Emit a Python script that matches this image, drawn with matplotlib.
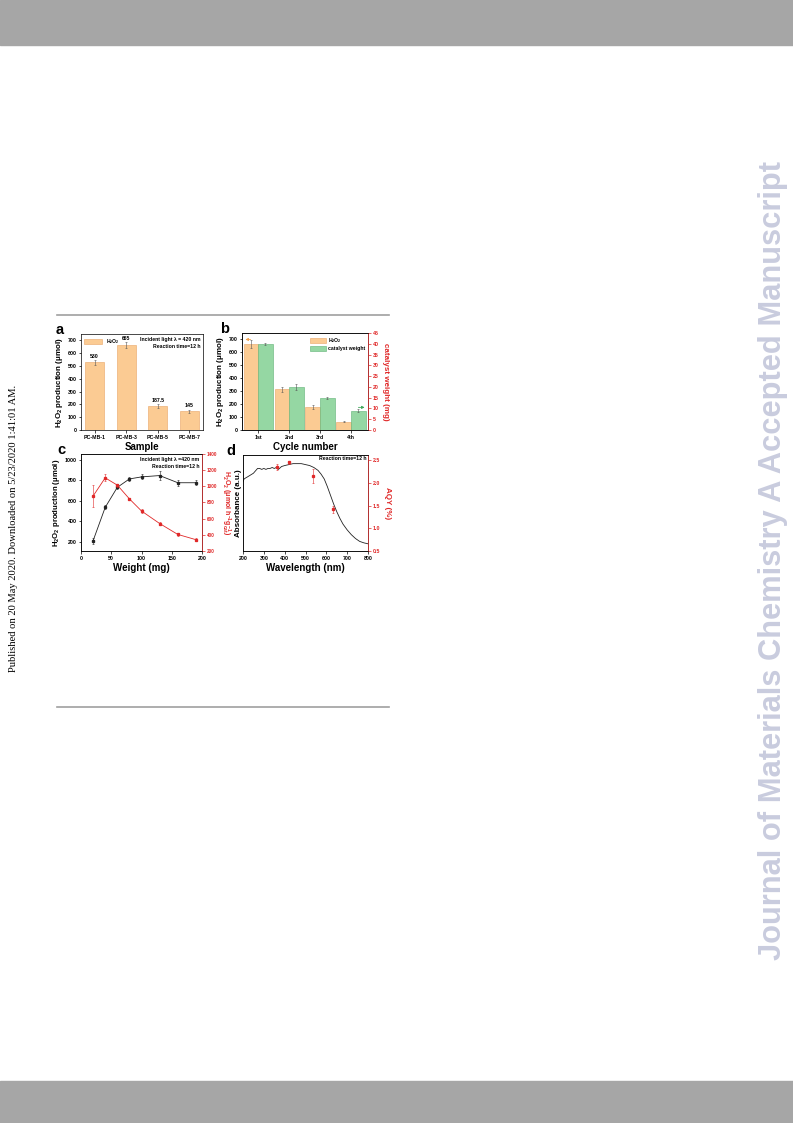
import matplotlib.pyplot as plt
from matplotlib.patches import Rectangle, Patch
from matplotlib.lines import Line2D

plt.rcParams['font.family'] = ['Liberation Sans', 'DejaVu Sans']
plt.rcParams['font.weight'] = 'bold'
plt.rcParams['axes.labelweight'] = 'bold'
plt.rcParams['mathtext.fontset'] = 'custom'
plt.rcParams['mathtext.rm'] = 'Liberation Sans:bold'
plt.rcParams['mathtext.bf'] = 'Liberation Sans:bold'
plt.rcParams['mathtext.it'] = 'Liberation Sans:bold'
plt.rcParams['axes.linewidth'] = 0.5

# panel a - samples
samples = ["PC-MB-1", "PC-MB-3", "PC-MB-5", "PC-MB-7"]
sample_h2o2 = [530, 665, 187.5, 145]
sample_err = [20, 25, 15, 15]
sample_text = ["530", "665", "187.5", "145"]

# panel b - recycling
cycles = ["1st", "2nd", "3rd", "4th"]
cycle_h2o2 = [665, 315, 178, 65]
cycle_h2o2_err = [28, 18, 18, 5]
cycle_weight = [40, 20, 15, 9]
cycle_weight_err = [0.4, 1.5, 0.4, 0.6]

# panel c - catalyst dosage
weights = [20, 40, 60, 80, 100, 130, 160, 190]
weight_h2o2 = [210, 535, 730, 812, 832, 845, 775, 775]
weight_h2o2_err = [30, 20, 15, 20, 25, 40, 30, 25]
weight_rate = [880, 1105, 1015, 845, 695, 540, 405, 340]
weight_rate_err = [140, 45, 20, 15, 20, 20, 15, 15]

# panel d - absorbance and AQY
wavelength = [200, 205, 212, 220, 235, 250, 262, 270, 280, 290, 300, 310, 320,
              330, 340, 350, 360, 370, 385, 400, 420, 440, 460, 480, 500, 520,
              540, 560, 575, 590, 605, 620, 635, 650, 665, 680, 700, 720, 740,
              760, 780, 800]
absorbance = [0.72, 0.75, 0.76, 0.77, 0.79, 0.81, 0.84, 0.86, 0.86, 0.85, 0.86,
              0.85, 0.86, 0.86, 0.87, 0.86, 0.87, 0.85, 0.88, 0.89, 0.90, 0.91,
              0.91, 0.91, 0.90, 0.89, 0.87, 0.84, 0.80, 0.75, 0.67, 0.58, 0.49,
              0.41, 0.34, 0.28, 0.22, 0.17, 0.13, 0.10, 0.085, 0.075]
aqy_wl = [365, 420, 535, 630]
aqy = [2.35, 2.45, 2.15, 1.42]
aqy_err = [0.07, 0.03, 0.15, 0.08]

ORANGE = '#FBCB93'
ORANGE_EDGE = '#E9A565'
GREEN = '#95D7A3'
GREEN_EDGE = '#5FB275'
RED = '#E02828'

TICK = 3.8
XLAB = 7.0
YLAB = 5.8
NOTE = 3.7

W, H = 793, 1123
fig = plt.figure(figsize=(W / 100, H / 100), dpi=100)


def box(x0, y0, x1, y1):
    return [x0 / W, 1 - y1 / H, (x1 - x0) / W, (y1 - y0) / H]


def style(ax, color='black', size=TICK):
    ax.tick_params(labelsize=size, length=1.8, width=0.5, pad=1.5, colors=color)


H2O2 = r'$\mathbf{H_2O_2}$'
err_kw = dict(elinewidth=0.4, capsize=1, capthick=0.4, ecolor='#555555')

# page decoration
fig.patches.append(Rectangle((0, 1 - 45 / H), 1, 45 / H, transform=fig.transFigure,
                             color='#A6A6A6', zorder=0))
fig.patches.append(Rectangle((0, 0), 1, 42 / H, transform=fig.transFigure,
                             color='#A6A6A6', zorder=0))
for yy in (315, 707):
    fig.add_artist(Line2D([57 / W, 389 / W], [1 - yy / H] * 2, color='#A0A0A0', lw=1.2))
fig.text(14 / W, 1 - 528 / H, "Published on 20 May 2020. Downloaded on 5/23/2020 1:41:01 AM.",
         rotation=90, ha='center', va='center', fontsize=7.6, fontweight='normal',
         family=['Liberation Serif'])
fig.text(773 / W, 1 - 560 / H, "Journal of Materials Chemistry A Accepted Manuscript",
         rotation=90, ha='center', va='center', fontsize=22.2, fontweight='bold',
         color='#C9CCDE')

# ---- a ----
ax = fig.add_axes(box(81, 334, 203, 430))
xa = range(len(samples))
ax.bar(xa, sample_h2o2, width=0.6, color=ORANGE, edgecolor=ORANGE_EDGE, lw=0.4,
       yerr=sample_err, error_kw=err_kw)
for i, v in enumerate(sample_h2o2):
    ax.text(i, v + sample_err[i] + 8, sample_text[i], ha='center', va='bottom', fontsize=NOTE)
ax.set_xticks(list(xa))
ax.set_xticklabels(samples)
ax.set_xlim(-0.43, 3.43)
ax.set_ylim(0, 750)
ax.set_yticks(range(0, 701, 100))
style(ax)
ax.set_xlabel('Sample', fontsize=XLAB, labelpad=2)
ax.set_ylabel(H2O2 + ' production (μmol)', fontsize=YLAB, labelpad=2)
ax.legend(handles=[Patch(facecolor=ORANGE, edgecolor=ORANGE_EDGE, lw=0.4, label=H2O2)],
          loc='upper left', fontsize=3.6, frameon=False, handlelength=3.5, handleheight=1.1,
          borderaxespad=0.2)
ax.text(0.98, 0.97, 'Incident light λ = 420 nm\nReaction time=12 h', transform=ax.transAxes,
        ha='right', va='top', fontsize=NOTE, linespacing=1.5)
fig.text(56 / W, 1 - 330 / H, 'a', fontsize=10.5, fontweight='bold', va='center')

# ---- b ----
ax = fig.add_axes(box(242, 333, 368, 430))
xb = range(len(cycles))
bw = 0.47
ax.bar([i - bw / 2 for i in xb], cycle_h2o2, width=bw, color=ORANGE, edgecolor=ORANGE_EDGE,
       lw=0.4, yerr=cycle_h2o2_err, error_kw=err_kw)
ax.set_xticks(list(xb))
ax.set_xticklabels(cycles)
ax.set_xlim(-0.52, 3.55)
ax.set_ylim(0, 750)
ax.set_yticks(range(0, 701, 100))
style(ax)
ax.set_xlabel('Cycle number', fontsize=XLAB, labelpad=2)
ax.set_ylabel(H2O2 + ' production (μmol)', fontsize=YLAB, labelpad=2)
ax.annotate('', xy=(-0.5, 700), xytext=(-0.15, 700),
            arrowprops=dict(arrowstyle='-|>', color='#F2A24E', lw=0.6, mutation_scale=4))
axr = ax.twinx()
axr.bar([i + bw / 2 for i in xb], cycle_weight, width=bw, color=GREEN, edgecolor=GREEN_EDGE,
        lw=0.4, yerr=cycle_weight_err, error_kw=err_kw)
axr.set_ylim(0, 45)
axr.set_yticks(range(0, 46, 5))
style(axr, RED)
axr.spines['right'].set_color(RED)
axr.set_ylabel('catalyst weight (mg)', fontsize=YLAB, color=RED, rotation=270,
               va='bottom', labelpad=2.5)
axr.annotate('', xy=(3.53, 10.5), xytext=(3.15, 10.5),
             arrowprops=dict(arrowstyle='-|>', color='#3FA75A', lw=0.6, mutation_scale=4))
axr.legend(handles=[Patch(facecolor=ORANGE, edgecolor=ORANGE_EDGE, lw=0.4, label=H2O2),
                    Patch(facecolor=GREEN, edgecolor=GREEN_EDGE, lw=0.4, label='catalyst weight')],
           loc='upper right', fontsize=3.7, frameon=False, handlelength=3.0, handleheight=1.1,
           borderaxespad=0.2, labelspacing=0.2, handletextpad=0.4)
fig.text(220 / W, 1 - 329 / H, 'b', fontsize=10.5, fontweight='bold', va='center')

# ---- c ----
ax = fig.add_axes(box(81, 454, 202, 551))
ax.errorbar(weights, weight_h2o2, yerr=weight_h2o2_err, color='#222222', marker='s', ms=1.4,
            lw=0.6, elinewidth=0.4, capsize=1, capthick=0.4)
ax.set_xlim(0, 200)
ax.set_xticks(range(0, 201, 50))
ax.set_ylim(110, 1055)
ax.set_yticks(range(200, 1001, 200))
style(ax)
ax.set_xlabel('Weight (mg)', fontsize=XLAB, labelpad=2)
ax.set_ylabel(H2O2 + ' production (μmol)', fontsize=5.6, labelpad=2)
ax.text(0.98, 0.97, 'Incident light λ =420 nm\nReaction time=12 h', transform=ax.transAxes,
        ha='right', va='top', fontsize=NOTE, linespacing=1.5)
axr = ax.twinx()
axr.errorbar(weights, weight_rate, yerr=weight_rate_err, color=RED, marker='s', ms=1.4,
             lw=0.6, elinewidth=0.4, capsize=1, capthick=0.4)
axr.set_ylim(200, 1400)
axr.set_yticks(range(200, 1401, 200))
style(axr, RED, 3.3)
axr.spines['right'].set_color(RED)
axr.set_ylabel(r'$\mathbf{H_2O_2\ (\mu mol\ h^{-1}g^{-1}_{cat})}$', fontsize=5.0, color=RED,
               rotation=270, va='bottom', labelpad=1.5)
fig.text(57 / W, 1 - 450 / H, 'c', fontsize=10.5, fontweight='bold', va='center')

# ---- d ----
ax = fig.add_axes(box(243, 455, 368, 551))
ax.plot(wavelength, absorbance, color='#222222', lw=0.6)
ax.set_xlim(200, 800)
ax.set_xticks(range(200, 801, 100))
ax.set_ylim(0, 1)
ax.set_yticks([])
style(ax)
ax.set_xlabel('Wavelength (nm)', fontsize=XLAB, labelpad=2)
ax.set_ylabel('Absorbance (a.u.)', fontsize=YLAB, labelpad=1)
ax.text(0.99, 0.985, 'Reaction time=12 h', transform=ax.transAxes,
        ha='right', va='top', fontsize=NOTE)
axr = ax.twinx()
axr.errorbar(aqy_wl, aqy, yerr=aqy_err, color=RED, marker='s', ms=1.4, ls='none',
             elinewidth=0.4, capsize=1, capthick=0.4)
axr.set_ylim(0.5, 2.61)
axr.set_yticks([0.5, 1.0, 1.5, 2.0, 2.5])
style(axr, RED)
axr.spines['right'].set_color(RED)
axr.set_ylabel('AQY (%)', fontsize=YLAB, color=RED, rotation=270, va='bottom', labelpad=2.5)
fig.text(226 / W, 1 - 451 / H, 'd', fontsize=10.5, fontweight='bold', va='center')

fig.savefig('out.png', dpi=100)
